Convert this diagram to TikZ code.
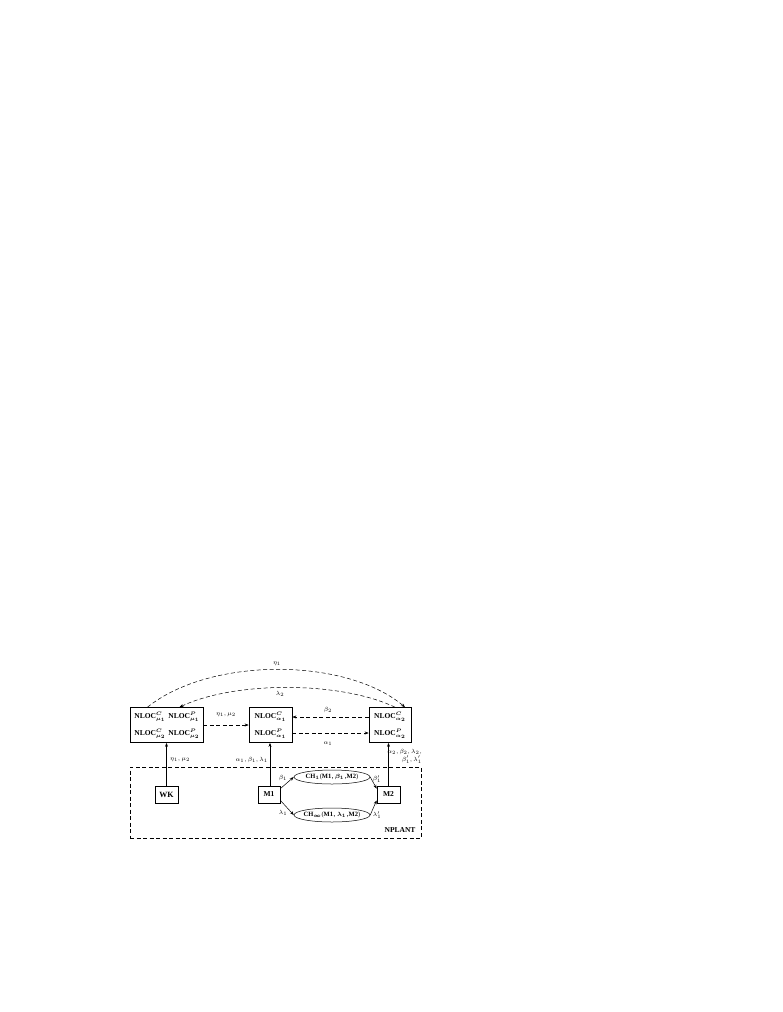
\documentclass[tikz,border=0pt]{standalone}
\usepackage{amsmath}
\usepackage{fontspec}
\setmainfont{Liberation Serif}
\usetikzlibrary{arrows.meta,shapes.geometric,calc}
\newcommand{\nl}[2]{{\bfseries NLOC}$^{#1}_{#2}$}
\begin{document}
\begin{tikzpicture}[x=1pt,y=-1pt,
  box/.style={draw,line width=0.7pt,inner sep=0pt},
  txt/.style={inner sep=0pt,font=\fontsize{7.5}{8}\selectfont\boldmath},
  lab/.style={inner sep=0pt,font=\fontsize{6.5}{7}\selectfont},
  chan/.style={draw,ellipse,line width=0.5pt,inner sep=0pt,minimum width=76pt,minimum height=14pt},
  ctxt/.style={inner sep=0pt,font=\fontsize{6.5}{7}\selectfont\boldmath},
  arr/.style={line width=0.5pt,-{Stealth[length=4pt,width=3pt]}},
  darr/.style={arr,dash pattern=on 4pt off 2.5pt}]
\useasboundingbox (0,0) rectangle (782,1012);
% boxes
\node[box,minimum width=73pt,minimum height=35pt] (L) at (166.5,725) {};
\node[box,minimum width=43pt,minimum height=35pt] (C) at (270.5,725) {};
\node[box,minimum width=42pt,minimum height=35pt] (R) at (390,725) {};
\node[txt] (l1) at (150,717) {\nl{C}{\mu_1}};
\node[txt] (l2) at (184,717) {\nl{P}{\mu_1}};
\node[txt] (l3) at (150,734) {\nl{C}{\mu_2}};
\node[txt] (l4) at (184,734) {\nl{P}{\mu_2}};
\node[txt] (c1) at (270.5,717) {\nl{C}{\alpha_1}};
\node[txt] (c2) at (270.5,734) {\nl{P}{\alpha_1}};
\node[txt] (r1) at (390,717) {\nl{C}{\alpha_2}};
\node[txt] (r2) at (390,734) {\nl{P}{\alpha_2}};
% plant
\node[draw,dash pattern=on 4pt off 2.5pt,line width=0.5pt,minimum width=291pt,minimum height=71pt,inner sep=0pt] (P) at (275.5,802.5) {};
\node[txt,font=\fontsize{7.5}{8}\selectfont\bfseries] (np) at (400,830) {NPLANT};
\node[box,minimum width=23pt,minimum height=17pt,font=\fontsize{8}{9}\selectfont\bfseries] (WK) at (166.5,794.5) {WK};
\node[box,minimum width=22pt,minimum height=17pt,font=\fontsize{7.5}{8}\selectfont\bfseries] (M1) at (269,794.5) {M1};
\node[box,minimum width=23pt,minimum height=17pt,font=\fontsize{7.5}{8}\selectfont\bfseries] (M2) at (388.5,794.5) {M2};
\node[chan] (E1) at (332,777) {};
\node[ctxt] (e1t) at (E1.center) {{\bfseries CH}$_1$({\bfseries M1}$,\beta_1,${\bfseries M2})};
\node[chan] (E2) at (332,815) {};
\node[ctxt] (e2t) at (E2.center) {{\bfseries CH}$_\infty$({\bfseries M1}$,\lambda_1,${\bfseries M2})};
% top arcs
\draw[darr] ([xshift=-19pt]L.north) .. controls (210,657) and (345,657) .. ([xshift=15pt]R.north);
\node[lab] (eta) at (277,664) {$\eta_1$};
\draw[darr] ([xshift=5pt]R.north) .. controls (340,681) and (235,681) .. ([xshift=13pt]L.north);
\node[lab] (lam) at (280,694) {$\lambda_2$};
% horizontal dashed arrows
\draw[darr] (L.east) -- (C.west);
\node[lab] (lc) at (226,715) {$\eta_1,\mu_2$};
\draw[darr] ([yshift=8pt]R.west) -- ([yshift=8pt]C.east);
\node[lab] (b2) at (328,710) {$\beta_2$};
\draw[darr] ([yshift=-8pt]C.east) -- ([yshift=-8pt]R.west);
\node[lab] (a1) at (328,744) {$\alpha_1$};
% vertical arrows
\draw[arr] (WK.north) -- (WK.north |- L.south);
\node[lab,anchor=west] (wkl) at (170,760) {$\eta_1,\mu_2$};
\draw[arr] ([xshift=1pt]M1.north) -- ([xshift=1pt]M1.north |- C.south);
\node[lab,anchor=east] (m1l) at (268,760) {$\alpha_1,\beta_1,\lambda_1$};
\draw[arr] (M2.north) -- (M2.north |- R.south);
\node[lab,anchor=east,align=right] (m2l) at (422,756) {$\alpha_2,\beta_2,\lambda_2,$\\[1pt]$\beta_1',\lambda_1'$};
% channel arrows
\draw[arr] ([yshift=-3pt]M1.north east) -- (E1.west);
\node[lab] (bl) at (283,778) {$\beta_1$};
\draw[arr] (E1.east) -- ([yshift=-3pt]M2.north west);
\node[lab] (blp) at (377,779) {$\beta_1'$};
\draw[arr] ([yshift=3pt]M1.south east) -- (E2.west);
\node[lab] (ll) at (283,813) {$\lambda_1$};
\draw[arr] (E2.east) -- ([yshift=3pt]M2.south west);
\node[lab] (llp) at (377,815) {$\lambda_1'$};
\end{tikzpicture}
\end{document}
